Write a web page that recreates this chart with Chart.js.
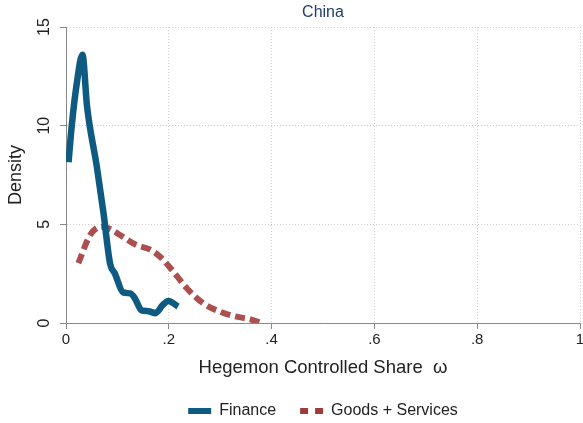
<!DOCTYPE html>
<html>
<head>
<meta charset="utf-8">
<script src="https://cdn.jsdelivr.net/npm/chart.js@4"></script>
<style>
  html, body { margin: 0; padding: 0; background: #fff; }
  #wrap { width: 583px; height: 423px; }
</style>
</head>
<body>
<div id="wrap"><canvas id="densityChart" width="583" height="423"></canvas></div>
<script>
// Kernel density
const financeX = [0.005, 0.011, 0.021, 0.032, 0.041, 0.060, 0.073, 0.086, 0.095, 0.111, 0.125, 0.134, 0.147, 0.160, 0.174, 0.188, 0.199, 0.218];
const financeY = [8.15, 9.95, 12.15, 13.6, 10.96, 7.92, 5.56, 2.98, 2.52, 1.55, 1.5, 1.25, 0.64, 0.6, 0.5, 0.9, 1.12, 0.83];

const goodsX = [0.024, 0.047, 0.069, 0.087, 0.105, 0.137, 0.163, 0.183, 0.209, 0.235, 0.267, 0.300, 0.332, 0.358, 0.377];
const goodsY = [3.03, 4.46, 4.88, 4.75, 4.46, 3.95, 3.73, 3.36, 2.6, 1.76, 1.0, 0.57, 0.32, 0.19, 0.02];

const xTicks = [0, 0.2, 0.4, 0.6, 0.8, 1];
const yTicks = [0, 5, 10, 15];

const FONT = "'Liberation Sans', Arial, sans-serif";

function toPoints(xs, ys) {
  return xs.map((x, i) => ({ x: x, y: ys[i] }));
}

// rotated y tick labels + title centred over the plot, Stata style
const stataText = {
  id: "stataText",
  afterDraw(chart) {
    const c = chart.ctx;
    const y = chart.scales.y;
    const area = chart.chartArea;
    c.save();
    c.fillStyle = "#222";
    c.font = "16px " + FONT;
    c.textAlign = "center";
    c.textBaseline = "middle";
    yTicks.forEach(v => {
      c.save();
      c.translate(45, y.getPixelForValue(v));
      c.rotate(-Math.PI / 2);
      c.fillText(String(v), 0, 0);
      c.restore();
    });
    c.fillStyle = "#1e3d6e";
    c.fillText("China", (area.left + area.right) / 2, 13);
    c.restore();
  }
};

const ctx = document.getElementById("densityChart").getContext("2d");
new Chart(ctx, {
  type: "scatter",
  data: {
    datasets: [{
      label: "Finance",
      data: toPoints(financeX, financeY),
      showLine: true,
      borderColor: "#0f5a80",
      backgroundColor: "#0f5a80",
      borderWidth: 6.5,
      pointRadius: 0,
      cubicInterpolationMode: "monotone",
      borderCapStyle: "butt"
    }, {
      label: "Goods + Services",
      data: toPoints(goodsX, goodsY),
      showLine: true,
      borderColor: "#ac4f4f",
      backgroundColor: "#9c3c3c",
      borderWidth: 6,
      borderDash: [10, 5],
      pointRadius: 0,
      cubicInterpolationMode: "monotone",
      borderCapStyle: "butt"
    }]
  },
  options: {
    responsive: false,
    animation: false,
    layout: { padding: { left: 0, right: 0, top: 27, bottom: 0 } },
    plugins: {
      legend: {
        position: "bottom",
        fullSize: false,
        maxHeight: 44,
        labels: {
          color: "#222",
          font: { family: FONT, size: 16 },
          usePointStyle: true,
          pointStyle: "line",
          pointStyleWidth: 23,
          boxHeight: 16,
          padding: 24,
          generateLabels(chart) {
            return chart.data.datasets.map((ds, i) => ({
              text: ds.label,
              fillStyle: ds.backgroundColor,
              strokeStyle: ds.backgroundColor,
              lineWidth: 6,
              lineDash: i === 1 ? [8, 7] : [],
              lineCap: "butt",
              pointStyle: "line",
              fontColor: "#222",
              hidden: false,
              datasetIndex: i
            }));
          }
        }
      },
      tooltip: { enabled: false }
    },
    scales: {
      x: {
        type: "linear",
        min: 0,
        max: 1,
        afterBuildTicks(scale) {
          scale.ticks = xTicks.map(v => ({ value: v }));
        },
        afterFit(scale) {
          scale.height = 56;
          scale.paddingLeft = 0;
          scale.paddingRight = 3;
        },
        ticks: {
          color: "#222",
          font: { family: FONT, size: 15 },
          padding: 2,
          maxRotation: 0,
          callback: v => (v === 0 ? "0" : v === 1 ? "1" : String(+v.toFixed(1)).replace("0.", "."))
        },
        grid: { color: "#cfcfcf", tickColor: "#888", tickLength: 6, tickBorderDash: [] },
        border: { color: "#888", width: 1, dash: [1, 2] },
        title: {
          display: true,
          text: "Hegemon Controlled Share  ω",
          color: "#222",
          font: { family: FONT, size: 18.5 },
          padding: { top: 0, bottom: 0 }
        }
      },
      y: {
        min: 0,
        max: 15,
        afterBuildTicks(scale) {
          scale.ticks = yTicks.map(v => ({ value: v }));
        },
        afterFit(scale) { scale.width = 66; },
        ticks: { color: "rgba(0,0,0,0)", font: { size: 14 } },
        grid: { color: "#cfcfcf", tickColor: "#888", tickLength: 6, tickBorderDash: [] },
        border: { color: "#888", width: 1, dash: [1, 2] },
        title: {
          display: true,
          text: "Density",
          color: "#222",
          font: { family: FONT, size: 18 },
          padding: { top: 5, bottom: 0 }
        }
      }
    }
  },
  plugins: [stataText]
});
</script>
</body>
</html>
